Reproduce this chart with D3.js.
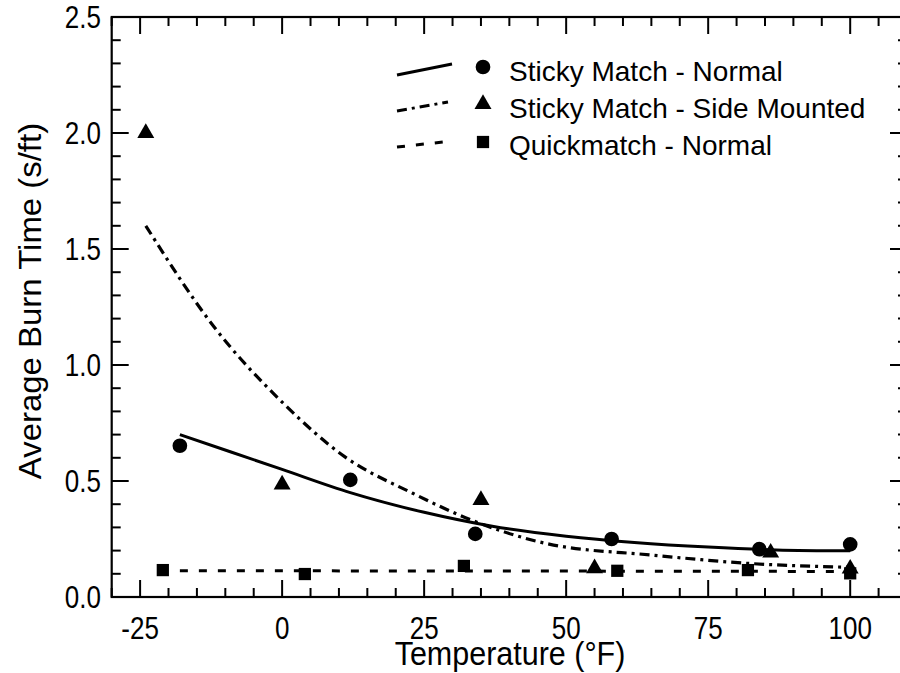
<!DOCTYPE html>
<html>
<head>
<meta charset="utf-8">
<script src="https://cdn.jsdelivr.net/npm/d3@7"></script>
<style>
  body { margin: 0; background: #fff; }
  svg { display: block; font-family: "Liberation Sans", Arial, sans-serif; }
</style>
</head>
<body>
<svg id="chart" width="900" height="673"></svg>
<script>
const stickyNormalX = [-18, 12, 34, 58, 84, 100];
const stickyNormalY = [0.652, 0.505, 0.272, 0.25, 0.206, 0.227];

const sideMountedX = [-24, 0, 35, 55, 86, 100];
const sideMountedY = [2.0, 0.485, 0.418, 0.124, 0.191, 0.122];

const quickX = [-21, 4, 32, 59, 82, 100];
const quickY = [0.116, 0.099, 0.134, 0.113, 0.116, 0.102];

// fitted curves
const fitNormalX = [-18, 0, 12, 25, 37, 50, 62, 75, 87, 100];
const fitNormalY = [0.70, 0.55, 0.45, 0.365, 0.305, 0.262, 0.235, 0.215, 0.203, 0.199];

const fitSideX = [-24, -12, 0, 11, 23, 34, 47, 65, 82, 100];
const fitSideY = [1.60, 1.165, 0.84, 0.605, 0.447, 0.325, 0.228, 0.181, 0.145, 0.128];

const fitQuickX = [-18, 40, 100];
const fitQuickY = [0.113, 0.112, 0.110];

const xTicks = [-25, 0, 25, 50, 75, 100];
const yTicks = [0.0, 0.5, 1.0, 1.5, 2.0, 2.5];

const legendLabels = ["Sticky Match - Normal", "Sticky Match - Side Mounted", "Quickmatch - Normal"];

const svg = d3.select("#chart");

const pLeft = 111.7, pRight = 907, pTop = 17, pBottom = 597;

const x = d3.scaleLinear().domain([-30, 110]).range([pLeft, pRight]);
const y = d3.scaleLinear().domain([0, 2.5]).range([pBottom, pTop]);

const zip = (xs, ys) => xs.map((v, i) => [v, ys[i]]);

// ---- ticks on all four sides, pointing inward ----
const minorX = d3.range(-30, 111, 5).filter(v => xTicks.indexOf(v) < 0);
const minorY = d3.range(0, 26).map(v => v / 10).filter(v => yTicks.indexOf(v) < 0);

const tickG = svg.append("g").attr("stroke", "#000").attr("stroke-width", 2);
function vTicks(vals, len) {
    vals.forEach(v => {
        tickG.append("line").attr("x1", x(v)).attr("x2", x(v)).attr("y1", pBottom).attr("y2", pBottom - len);
        tickG.append("line").attr("x1", x(v)).attr("x2", x(v)).attr("y1", pTop).attr("y2", pTop + len);
    });
}
function hTicks(vals, len) {
    vals.forEach(v => {
        tickG.append("line").attr("y1", y(v)).attr("y2", y(v)).attr("x1", pLeft).attr("x2", pLeft + len);
        tickG.append("line").attr("y1", y(v)).attr("y2", y(v)).attr("x1", pRight).attr("x2", pRight - len);
    });
}
vTicks(xTicks, 17);
vTicks(minorX, 9);
hTicks(yTicks, 17);
hTicks(minorY, 9);

// frame
svg.append("rect")
    .attr("x", pLeft).attr("y", pTop)
    .attr("width", pRight - pLeft).attr("height", pBottom - pTop)
    .attr("fill", "none").attr("stroke", "#000").attr("stroke-width", 2.2);

// tick labels (the original type is a bit taller than normal)
svg.append("g").selectAll("text").data(xTicks).enter().append("text")
    .attr("transform", d => "translate(" + x(d) + ",639) scale(1,1.2)")
    .attr("text-anchor", "middle").attr("font-size", 26)
    .text(d => d);

svg.append("g").selectAll("text").data(yTicks).enter().append("text")
    .attr("transform", d => "translate(101," + (y(d) + 11) + ") scale(1,1.2)")
    .attr("text-anchor", "end").attr("font-size", 26)
    .text(d => d.toFixed(1));

// axis titles
svg.append("text")
    .attr("transform", "translate(510,665) scale(1,1.1)")
    .attr("text-anchor", "middle").attr("font-size", 30.5)
    .text("Temperature (°F)");

svg.append("text")
    .attr("transform", "translate(41,301) rotate(-90) scale(1.08,1)")
    .attr("text-anchor", "middle").attr("font-size", 30.5)
    .text("Average Burn Time (s/ft)");

// ---- curves ----
const line = d3.line().x(d => x(d[0])).y(d => y(d[1])).curve(d3.curveMonotoneX);

svg.append("path").datum(zip(fitNormalX, fitNormalY))
    .attr("d", line).attr("fill", "none").attr("stroke", "#000").attr("stroke-width", 3);

svg.append("path").datum(zip(fitSideX, fitSideY))
    .attr("d", line).attr("fill", "none").attr("stroke", "#000").attr("stroke-width", 3.2)
    .attr("stroke-dasharray", "10,5,3,5");

svg.append("path").datum(zip(fitQuickX, fitQuickY))
    .attr("d", line).attr("fill", "none").attr("stroke", "#000").attr("stroke-width", 3)
    .attr("stroke-dasharray", "8,11");

// ---- markers ----
const circleSym = d3.symbol().type(d3.symbolCircle).size(170);
const triSym = d3.symbol().type(d3.symbolTriangle).size(125);
const sqSym = d3.symbol().type(d3.symbolSquare).size(150);

function markers(pts, sym) {
    svg.append("g").selectAll("path").data(pts).enter().append("path")
        .attr("transform", d => "translate(" + x(d[0]) + "," + y(d[1]) + ")")
        .attr("d", sym).attr("fill", "#000");
}
markers(zip(quickX, quickY), sqSym);
markers(zip(stickyNormalX, stickyNormalY), circleSym);
markers(zip(sideMountedX, sideMountedY), triSym);

// ---- legend ----
const legRows = [
    { dash: null, sym: circleSym, y0: 75, y1: 64, x1: 452, my: 67 },
    { dash: "10,5,3,5", sym: triSym, y0: 111, y1: 102, x1: 448, my: 104 },
    { dash: "8,11", sym: sqSym, y0: 147, y1: 142, x1: 443, my: 142 }
];
legRows.forEach((r, i) => {
    svg.append("line")
        .attr("x1", 397).attr("y1", r.y0).attr("x2", r.x1).attr("y2", r.y1)
        .attr("stroke", "#000").attr("stroke-width", 3)
        .attr("stroke-dasharray", r.dash);
    svg.append("path")
        .attr("transform", "translate(483," + r.my + ")")
        .attr("d", r.sym).attr("fill", "#000");
    svg.append("text")
        .attr("x", 509).attr("y", 81 + i * 37)
        .attr("font-size", 28)
        .text(legendLabels[i]);
});
</script>
</body>
</html>
